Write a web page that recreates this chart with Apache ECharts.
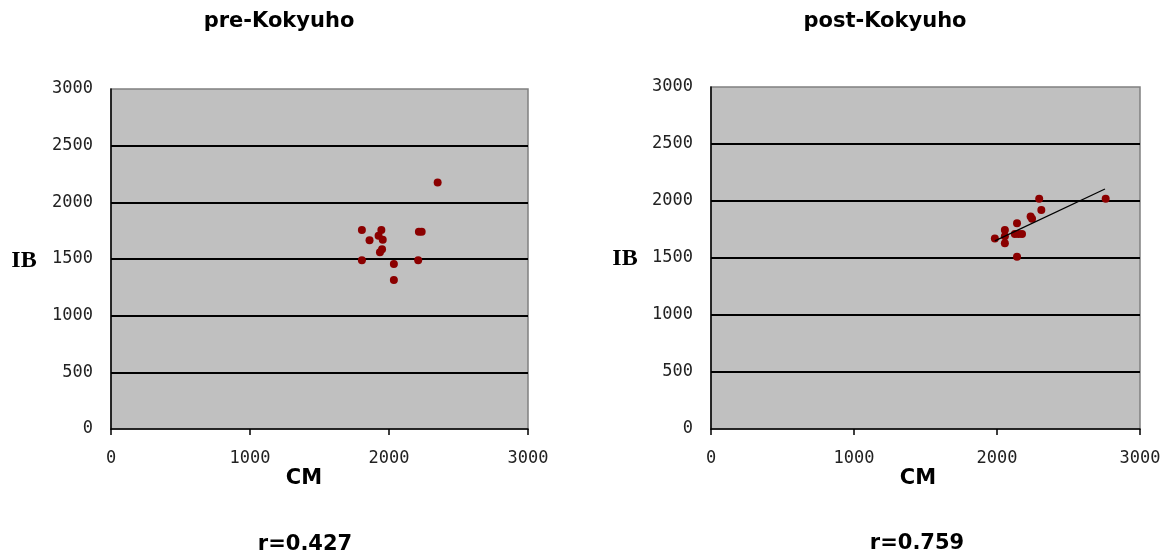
<!DOCTYPE html>
<html>
<head>
<meta charset="utf-8">
<script src="https://cdn.jsdelivr.net/npm/echarts@6/dist/echarts.min.js"></script>
<style>
html,body{margin:0;padding:0;background:#fff;}
#c{width:1175px;height:558px;}
</style>
</head>
<body>
<div id="c"></div>
<script>
// pre-Kokyuho
var preCM = [2350, 1805, 1860, 1945, 1925, 1955, 1950, 1935, 2215, 2235, 1805, 2035, 2035, 2210];
var preIB = [2175, 1755, 1665, 1755, 1705, 1670, 1585, 1560, 1740, 1740, 1490, 1455, 1315, 1490];
// post-Kokyuho
var postCM = [1985, 2055, 2055, 2055, 2140, 2125, 2150, 2175, 2140, 2235, 2245, 2295, 2310, 2760];
var postIB = [1670, 1745, 1690, 1630, 1805, 1710, 1710, 1710, 1510, 1865, 1845, 2020, 1920, 2020];
// linear trend line (post), endpoints
var trendCM = [1985, 2755];
var trendIB = [1650, 2105];

var titles = ['pre-Kokyuho', 'post-Kokyuho'];
var rLabels = ['r=0.427', 'r=0.759'];
var xName = 'CM';
var yName = 'IB';

function pairs(xs, ys) { return xs.map(function (x, i) { return [x, ys[i]]; }); }
function plain(v) { return String(v); }

var tickFont = 'DejaVu Sans Mono';
var boldFont = 'DejaVu Sans';

function xAxisCfg(idx) {
  return {
    gridIndex: idx, type: 'value', min: 0, max: 3000, interval: 1000,
    axisLine: { show: true, onZero: false, lineStyle: { color: '#000', width: 1.5 } },
    axisTick: { show: true, inside: false, length: 6, lineStyle: { color: '#000', width: 1.5 } },
    axisLabel: { margin: 21, fontFamily: tickFont, fontSize: 17, color: '#222', formatter: plain },
    splitLine: { show: false }
  };
}
function yAxisCfg(idx) {
  return {
    gridIndex: idx, type: 'value', min: 0, max: 3000, interval: 500,
    axisLine: { show: true, onZero: false, lineStyle: { color: '#000', width: 1.5 } },
    axisTick: { show: false },
    axisLabel: { margin: 18, fontFamily: tickFont, fontSize: 17, color: '#222', formatter: plain },
    splitLine: { show: true, showMinLine: false, showMaxLine: false, lineStyle: { color: '#000', width: 1.8 } }
  };
}

var chart = echarts.init(document.getElementById('c'), null, { renderer: 'canvas' });
chart.setOption({
  animation: false,
  backgroundColor: '#fff',
  grid: [
    { left: 111, top: 89, width: 417, height: 340, show: true, backgroundColor: '#C0C0C0', borderColor: '#808080', borderWidth: 1.5 },
    { left: 711, top: 87, width: 429, height: 342, show: true, backgroundColor: '#C0C0C0', borderColor: '#808080', borderWidth: 1.5 }
  ],
  xAxis: [xAxisCfg(0), xAxisCfg(1)],
  yAxis: [yAxisCfg(0), yAxisCfg(1)],
  series: [
    { type: 'scatter', xAxisIndex: 0, yAxisIndex: 0, data: pairs(preCM, preIB),
      symbol: 'circle', symbolSize: 8, itemStyle: { color: '#8B0000', opacity: 1 } },
    { type: 'scatter', xAxisIndex: 1, yAxisIndex: 1, data: pairs(postCM, postIB),
      symbol: 'circle', symbolSize: 8, itemStyle: { color: '#8B0000', opacity: 1 } },
    { type: 'line', xAxisIndex: 1, yAxisIndex: 1, data: pairs(trendCM, trendIB),
      showSymbol: false, symbol: 'none', lineStyle: { color: '#000', width: 1.3 }, z: 3 }
  ],
  graphic: [
    { type: 'text', x: 279, y: 22, style: { text: titles[0], align: 'center', verticalAlign: 'middle', font: 'bold 21px "' + boldFont + '"', fill: '#000' } },
    { type: 'text', x: 885, y: 22, style: { text: titles[1], align: 'center', verticalAlign: 'middle', font: 'bold 21px "' + boldFont + '"', fill: '#000' } },
    { type: 'text', x: 24, y: 261, style: { text: yName, align: 'center', verticalAlign: 'middle', font: 'bold 24px "Liberation Serif"', fill: '#000' } },
    { type: 'text', x: 625, y: 259, style: { text: yName, align: 'center', verticalAlign: 'middle', font: 'bold 24px "Liberation Serif"', fill: '#000' } },
    { type: 'text', x: 304, y: 479, style: { text: xName, align: 'center', verticalAlign: 'middle', font: 'bold 21px "' + boldFont + '"', fill: '#000' } },
    { type: 'text', x: 918, y: 479, style: { text: xName, align: 'center', verticalAlign: 'middle', font: 'bold 21px "' + boldFont + '"', fill: '#000' } },
    { type: 'text', x: 305, y: 545, style: { text: rLabels[0], align: 'center', verticalAlign: 'middle', font: 'bold 21px "' + boldFont + '"', fill: '#000' } },
    { type: 'text', x: 917, y: 544, style: { text: rLabels[1], align: 'center', verticalAlign: 'middle', font: 'bold 21px "' + boldFont + '"', fill: '#000' } }
  ]
});
</script>
</body>
</html>
